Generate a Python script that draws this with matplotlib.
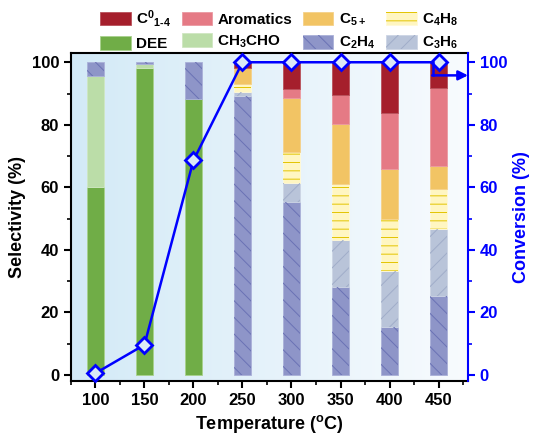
import numpy as np
import matplotlib
matplotlib.use('Agg')
import matplotlib.pyplot as plt
from matplotlib.colors import LinearSegmentedColormap

plt.rcParams['font.family'] = ['Liberation Sans', 'DejaVu Sans']
plt.rcParams['font.weight'] = 'bold'
plt.rcParams['mathtext.fontset'] = 'custom'
plt.rcParams['mathtext.bf'] = 'Liberation Sans:bold'
plt.rcParams['mathtext.rm'] = 'Liberation Sans:bold'
plt.rcParams['mathtext.default'] = 'bf'
plt.rcParams['hatch.linewidth'] = 0.7

# data
temps = [100, 150, 200, 250, 300, 350, 400, 450]
c2h4 = [4.5, 0.6, 11.7, 89.2, 55.2, 28.0, 15.2, 25.1]
c3h6 = [0, 0, 0, 1.3, 6.2, 15.1, 17.9, 21.4]
c4h8 = [0, 0, 0, 2.7, 9.9, 18.0, 16.9, 12.8]
c5 = [0, 0, 0, 4.9, 17.2, 19.3, 15.7, 7.6]
arom = [0, 0, 0, 0, 3.0, 9.0, 18.0, 24.8]
c0 = [0, 0, 0, 1.9, 8.5, 10.6, 16.3, 8.3]
dee = [60.0, 98.3, 88.3, 0, 0, 0, 0, 0]
ch3cho = [35.5, 1.1, 0, 0, 0, 0, 0, 0]
conversion = [0.5, 9.6, 68.6, 100, 100, 100, 100, 100]

# stacking order bottom -> top: name, values, face, border, hatch, hatch colour
layers = [
    ('DEE', dee, '#70ad47', '#a8d18d', None, None),
    ('CH$_3$CHO', ch3cho, '#bbdda8', '#cfe7c2', None, None),
    ('C$_2$H$_4$', c2h4, '#8e95c8', '#aab0d8', '\\\\', '#6a72b5'),
    ('C$_3$H$_6$', c3h6, '#b9c4d9', '#ccd4e4', '//', '#a0adc9'),
    ('C$_4$H$_8$', c4h8, '#fff6c2', '#fff9d8', '--', '#e3c400'),
    ('C$_{5+}$', c5, '#f2c464', '#f5d189', None, None),
    ('Aromatics', arom, '#e57a85', '#eb99a1', None, None),
    ('C$^0$$_{1\\text{-}4}$', c0, '#a51f2c', '#b8505a', None, None),
]

fig = plt.figure(figsize=(5.33, 4.37), dpi=100)
ax = fig.add_axes([0.133, 0.128, 0.745, 0.751])

bg = LinearSegmentedColormap.from_list('bg', ['#d3eaf7', '#f8fbfe'])
ax.imshow(np.linspace(0, 1, 256).reshape(1, -1), cmap=bg, extent=[0, 1, 0, 1],
          transform=ax.transAxes, aspect='auto', zorder=0)

handles = {}
x = np.array(temps, dtype=float)
bottom = np.zeros(len(temps))
for name, vals, fc, ec, hatch, hc in layers:
    vals = np.array(vals, dtype=float)
    m = vals > 0
    b = ax.bar(x[m], vals[m], width=18, bottom=bottom[m], color=fc, edgecolor=ec,
               linewidth=0.6, zorder=2)
    h = b
    if hatch:
        b2 = ax.bar(x[m], vals[m], width=18, bottom=bottom[m], color='none',
                    edgecolor=hc, linewidth=0, hatch=hatch, zorder=2.1)
        h = (b, b2)
    handles[name] = h
    bottom += vals

ax.set_xlim(75, 480)
ax.set_ylim(-2, 103)
ax.set_xticks(temps)
ax.set_xticks(np.arange(75, 480, 25), minor=True)
ax.set_yticks(np.arange(0, 101, 20))
ax.set_yticks(np.arange(0, 101, 10), minor=True)
ax.tick_params(axis='both', which='major', direction='out', length=5, width=1.5,
               labelsize=12)
ax.tick_params(axis='both', which='minor', direction='out', length=3, width=1.2)
for lab in ax.get_xticklabels() + ax.get_yticklabels():
    lab.set_fontweight('bold')
ax.set_xlabel('Temperature ($^{\\mathrm{o}}$C)', fontsize=13, fontweight='bold')
ax.set_ylabel('Selectivity (%)', fontsize=13, fontweight='bold')
for s in ['left', 'bottom', 'top']:
    ax.spines[s].set_linewidth(1.5)
ax.spines['right'].set_visible(False)

ax2 = ax.twinx()
ax2.set_ylim(-2, 103)
ax2.plot(temps, conversion, color='#0000ff', lw=1.8, marker='D', ms=8,
         mfc='#dce9f6', mec='#0000ff', mew=2, zorder=5, clip_on=False)
ax2.set_yticks(np.arange(0, 101, 20))
ax2.set_yticks(np.arange(0, 101, 10), minor=True)
ax2.tick_params(axis='y', which='major', direction='out', length=5, width=1.5,
                colors='#0000ff', labelsize=12)
ax2.tick_params(axis='y', which='minor', direction='out', length=3, width=1.2,
                colors='#0000ff')
for lab in ax2.get_yticklabels():
    lab.set_fontweight('bold')
ax2.spines['right'].set_color('#0000ff')
ax2.spines['right'].set_linewidth(1.5)
for s in ['left', 'bottom', 'top']:
    ax2.spines[s].set_visible(False)
ax2.set_ylabel('Conversion (%)', fontsize=13, fontweight='bold', color='#0000ff')

# arrow pointing to the conversion axis
ax2.plot([444, 444], [100, 95.8], color='#0000ff', lw=1.8, zorder=5)
ax2.annotate('', xy=(480, 95.8), xytext=(443.5, 95.8),
             arrowprops=dict(arrowstyle='-|>', color='#0000ff', lw=1.8,
                             mutation_scale=14, shrinkA=0, shrinkB=0), zorder=5)

order = ['C$^0$$_{1\\text{-}4}$', 'DEE', 'Aromatics', 'CH$_3$CHO',
         'C$_{5+}$', 'C$_2$H$_4$', 'C$_4$H$_8$', 'C$_3$H$_6$']
fig.legend([handles[k] for k in order], order, ncol=4, frameon=False,
           loc='upper left', bbox_to_anchor=(100 / 533, 1 - 8 / 437), fontsize=11,
           handlelength=2.0, handleheight=1.0, columnspacing=0.7,
           handletextpad=0.35, labelspacing=0.45, borderaxespad=0, borderpad=0)

fig.savefig('out.png', dpi=100)
